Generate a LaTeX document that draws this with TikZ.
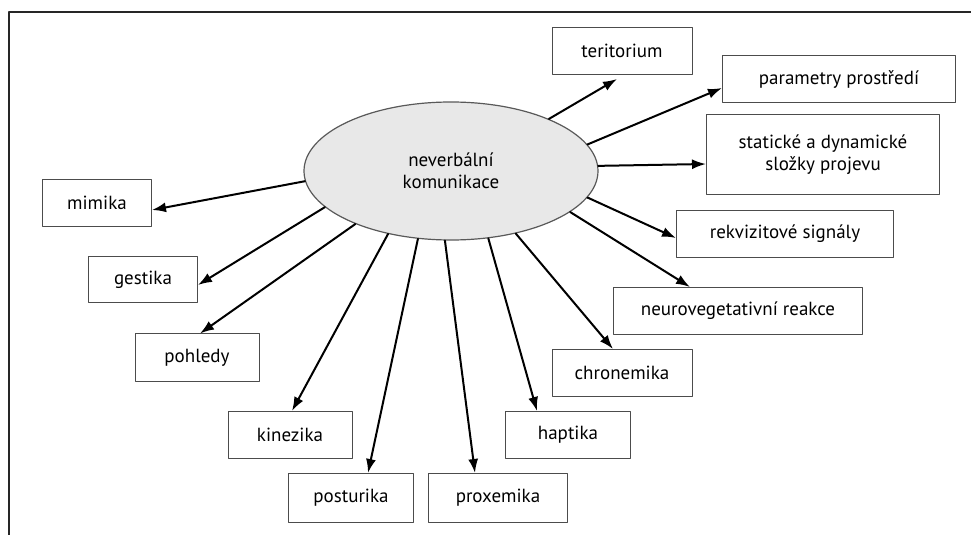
\documentclass[tikz,border=0pt]{standalone}
\usepackage{fontspec}
\setmainfont{PT Sans}
\usetikzlibrary{shapes.geometric, arrows.meta}

\tikzset{
  slozka/.style={draw=black!70, line width=0.5pt, inner sep=0pt,
    minimum height=23.5pt, font=\fontsize{9.5}{11}\selectfont},
  sipka/.style={-{Latex[length=7pt, width=5pt]}, line width=1pt}
}

\begin{document}
\begin{tikzpicture}[x=0.5pt, y=-0.5pt, line cap=round, line join=round]
  \useasboundingbox (0,0) rectangle (971,535);
  % ramecek
  \draw[line width=0.7pt, black!85] (9,535) -- (9,12) -- (971,12);

  % stred
  \node[ellipse, draw=black!65, fill=gray!18, line width=0.6pt, inner sep=0pt,
    minimum width=147pt, minimum height=69pt, align=center,
    font=\fontsize{9.5}{11}\selectfont] (nk) at (451,171) {neverbální\\komunikace};

  % pravá strana
  \node[slozka, minimum width=70pt] (teritorium) at (622,51) {teritorium};
  \node[slozka, minimum width=116.5pt] (parametry) at (839,79) {parametry prostředí};
  \node[slozka, minimum width=116.5pt, minimum height=40pt, align=center] (staticke) at (823,155)
    {statické a dynamické\\složky projevu};
  \node[slozka, minimum width=108.5pt] (rekvizity) at (785,234) {rekvizitové signály};
  \node[slozka, minimum width=124.5pt] (neuro) at (738,311) {neurovegetativní reakce};
  \node[slozka, minimum width=70pt] (chronemika) at (622,373) {chronemika};
  \node[slozka, minimum width=62.5pt] (haptika) at (568,435) {haptika};
  \node[slozka, minimum width=69.5pt, minimum height=24.5pt] (proxemika) at (498,498) {proxemika};

  % levá strana
  \node[slozka, minimum width=62.5pt, minimum height=24.5pt] (posturika) at (351,498) {posturika};
  \node[slozka, minimum width=62pt] (kinezika) at (290,435) {kinezika};
  \node[slozka, minimum width=62pt, minimum height=24pt] (pohledy) at (197,358) {pohledy};
  \node[slozka, minimum width=54.5pt, minimum height=23pt] (gestika) at (143,280) {gestika};
  \node[slozka, minimum width=54.5pt] (mimika) at (97,203) {mimika};

  % sipky
  \draw[sipka] (nk.28.6) -- ([xshift=-2.5pt,yshift=-2pt]teritorium.south);
  \draw[sipka] (nk.11.6) -- ([yshift=-4.5pt]parametry.west);
  \draw[sipka] (nk.2.7) -- ([yshift=-4.5pt]staticke.west);
  \draw[sipka] (nk.-11.4) -- ([yshift=-2pt]rekvizity.west);
  \draw[sipka] (nk.-19.1) -- ([xshift=-24pt]neuro.north);
  \draw[sipka] (nk.-44.6) -- ([xshift=-4.5pt]chronemika.north);
  \draw[sipka] (nk.-61.8) -- ([xshift=-15.5pt]haptika.north);
  \draw[sipka] (nk.-95) -- ([xshift=-11.5pt]proxemika.north);
  \draw[sipka] (nk.-116) -- ([xshift=8.5pt]posturika.north);
  \draw[sipka] (nk.-135) -- ([xshift=1pt]kinezika.north);
  \draw[sipka] (nk.-151) -- ([xshift=1.5pt]pohledy.north);
  \draw[sipka] (nk.-164) -- ([yshift=-2.5pt]gestika.east);
  \draw[sipka] (nk.-176) -- ([yshift=-3.5pt]mimika.east);
\end{tikzpicture}
\end{document}
